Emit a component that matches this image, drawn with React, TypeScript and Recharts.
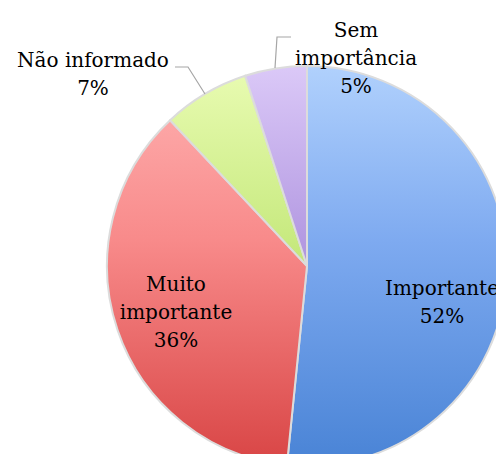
import React from "react";
import { PieChart, Pie, Cell } from "recharts";

const categories = ["Importante", "Muito importante", "Não informado", "Sem importância"];
const values = [51.6, 36.4, 7, 5];
const labelLines = [["Importante"], ["Muito", "importante"], ["Não informado"], ["Sem", "importância"]];

const data = categories.map((name, i) => ({ name, value: values[i] }));

const gradients = [
  { id: "gBlue", top: "#b2d2fd", mid: "#7eaaf0", bottom: "#4a84d6" },
  { id: "gRed", top: "#ffb4b4", mid: "#f88a8a", bottom: "#d94646" },
  { id: "gGreen", top: "#eafcb4", mid: "#c8ea80", bottom: "#8cc040" },
  { id: "gPurple", top: "#dccaf8", mid: "#b49ae2", bottom: "#7e60b6" },
];

// label placement (first baseline), in units of the pie radius relative to its centre
const labelPos = [
  { dx: 0.675, dy: 0.145 },
  { dx: -0.655, dy: 0.125 },
  { dx: -1.07, dy: -0.995 },
  { dx: 0.245, dy: -1.145 },
];
const leaders: (number[][] | null)[] = [
  null,
  null,
  [[-0.66, -0.995], [-0.595, -0.995], [-0.51, -0.86]],
  [[-0.08, -1.145], [-0.15, -1.145], [-0.16, -0.99]],
];

const FONT = "'DejaVu Serif', serif";
const LINE_H = 28;

const renderLabel = (props: any) => {
  const { cx, cy, outerRadius, index, value } = props;
  const r = outerRadius;
  const p = labelPos[index];
  const x = cx + p.dx * r;
  const y = cy + p.dy * r;
  const lines = [...labelLines[index], `${Math.round(value)}%`];
  const ld = leaders[index];
  return (
    <g key={`lbl-${index}`}>
      {ld && (
        <polyline
          points={ld.map(([a, b]) => `${cx + a * r},${cy + b * r}`).join(" ")}
          fill="none"
          stroke="#a6a6a6"
          strokeWidth={1.2}
        />
      )}
      <text x={x} y={y} textAnchor="middle" fontFamily={FONT} fontSize={20} fill="#000">
        {lines.map((t, i) => (
          <tspan key={i} x={x} y={y + i * LINE_H}>
            {t}
          </tspan>
        ))}
      </text>
    </g>
  );
};

export default function App() {
  return (
    <div style={{ margin: -8, width: 504, height: 462, background: "#fff" }}>
      <PieChart width={504} height={462}>
        <defs>
          {gradients.map((g) => (
            <linearGradient key={g.id} id={g.id} gradientUnits="userSpaceOnUse" x1="0" y1="61" x2="0" y2="461">
              <stop offset="0%" stopColor={g.top} />
              <stop offset="45%" stopColor={g.mid} />
              <stop offset="100%" stopColor={g.bottom} />
            </linearGradient>
          ))}
        </defs>
        <Pie
          data={data}
          dataKey="value"
          nameKey="name"
          cx={302}
          cy={261}
          outerRadius={200}
          startAngle={90}
          endAngle={-270}
          stroke="#dcdcdc"
          strokeWidth={2}
          label={renderLabel}
          labelLine={false}
          isAnimationActive={false}
        >
          {data.map((d, i) => (
            <Cell key={d.name} fill={`url(#${gradients[i].id})`} />
          ))}
        </Pie>
      </PieChart>
    </div>
  );
}
